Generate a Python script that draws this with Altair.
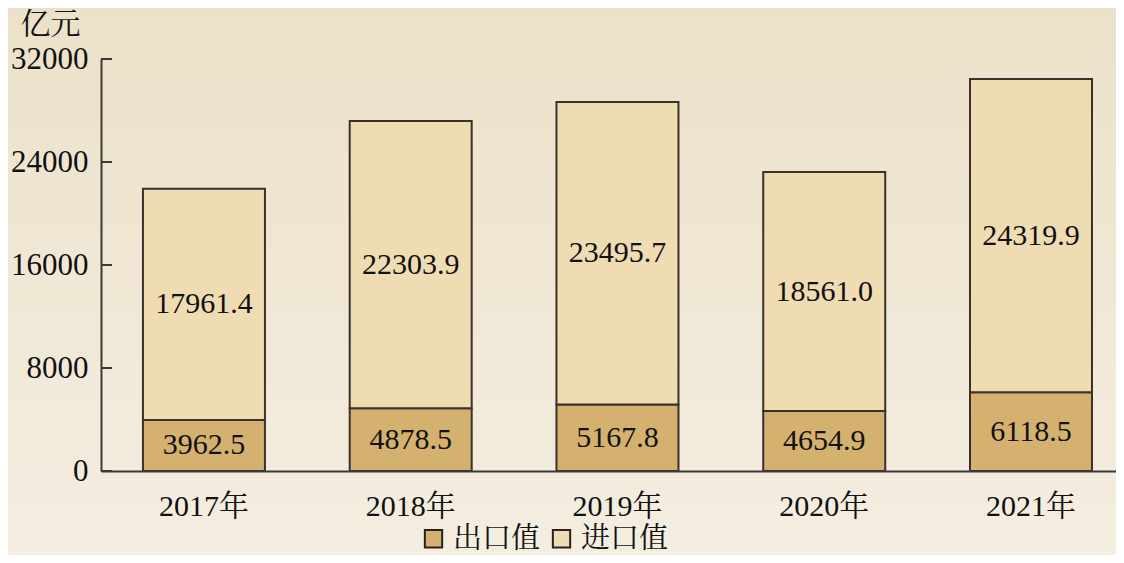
import altair as alt
import pandas as pd

years = ["2017年", "2018年", "2019年", "2020年", "2021年"]
exports = [3962.5, 4878.5, 5167.8, 4654.9, 6118.5]
imports = [17961.4, 22303.9, 23495.7, 18561.0, 24319.9]
series = ["出口值", "进口值"]
colors = ["#D5B16F", "#EFDCB3"]
y_ticks = [0, 8000, 16000, 24000, 32000]

FONT = "Liberation Serif, Noto Serif CJK SC, Noto Sans CJK SC"
W, H = 1015, 412

rows = []
for y, e, i in zip(years, exports, imports):
    rows.append({"year": y, "kind": series[0], "lo": 0, "hi": e, "mid": e / 2, "val": e})
    rows.append({"year": y, "kind": series[1], "lo": e, "hi": e + i, "mid": e + i / 2, "val": i})
df = pd.DataFrame(rows)
ticks_df = pd.DataFrame({"v": y_ticks})

xscale = alt.Scale(paddingInner=0.41, paddingOuter=0.1595, align=0.636, round=False)
yscale = alt.Scale(domain=[0, 32000], nice=False)

bg = alt.Chart(pd.DataFrame({"a": [0]})).mark_rect(
    fill=alt.Gradient(
        gradient="linear",
        stops=[alt.GradientStop(color="#ECE1C8", offset=0),
               alt.GradientStop(color="#F4EEE2", offset=1)],
        x1=0, x2=0, y1=0, y2=1,
    )
).encode(x=alt.value(-93), x2=alt.value(W + 10), y=alt.value(-60), y2=alt.value(H + 100))

bars = alt.Chart(df).mark_bar(stroke="#3A302C", strokeWidth=2).encode(
    x=alt.X("year:N", sort=years, scale=xscale,
            axis=alt.Axis(title=None, labelAngle=0, ticks=False, domain=True,
                          domainColor="#3A3A3A", domainWidth=2, zindex=2,
                          labelFont=FONT, labelFontSize=30, labelColor="#111",
                          labelPadding=20)),
    y=alt.Y("lo:Q", scale=yscale,
            axis=alt.Axis(title="亿元", titleAngle=0, titleX=-51, titleY=-20,
                          titleAlign="center", titleBaseline="bottom",
                          titleFont=FONT, titleFontSize=30, titleFontWeight="normal",
                          titleColor="#111", zindex=2,
                          values=y_ticks, ticks=False, grid=False,
                          domainColor="#3A3A3A", domainWidth=2,
                          labelFont=FONT, labelFontSize=31, labelColor="#111",
                          labelPadding=13, format="d")),
    y2="hi:Q",
    color=alt.Color("kind:N", scale=alt.Scale(domain=series, range=colors),
                    legend=alt.Legend(title=None, orient="none", direction="horizontal",
                                      legendX=318, legendY=465,
                                      symbolType="square", symbolSize=300,
                                      symbolStrokeColor="#2A2020", symbolStrokeWidth=2,
                                      symbolOpacity=1,
                                      labelFont=FONT, labelFontSize=29, labelColor="#111",
                                      labelOffset=5, columnPadding=6)),
)

labels = alt.Chart(df).mark_text(font=FONT, fontSize=30, color="#111", baseline="middle").encode(
    x=alt.X("year:N", sort=years, scale=xscale),
    y=alt.Y("mid:Q", scale=yscale),
    text=alt.Text("val:Q", format=".1f"),
)

tick_rules = alt.Chart(ticks_df).mark_rule(color="#3A3A3A", strokeWidth=2).encode(
    y=alt.Y("v:Q", scale=yscale),
    x=alt.value(0),
    x2=alt.value(11),
)

chart = alt.layer(bg, bars, labels, tick_rules).properties(
    width=W, height=H,
    autosize=alt.AutoSizeParams(type="none"),
    padding={"left": 93, "top": 51, "right": 0, "bottom": 84},
    background="#F0E8D6",
).configure_view(stroke=None)

chart.save("out.html", embed_options={"renderer": "svg", "actions": False})
